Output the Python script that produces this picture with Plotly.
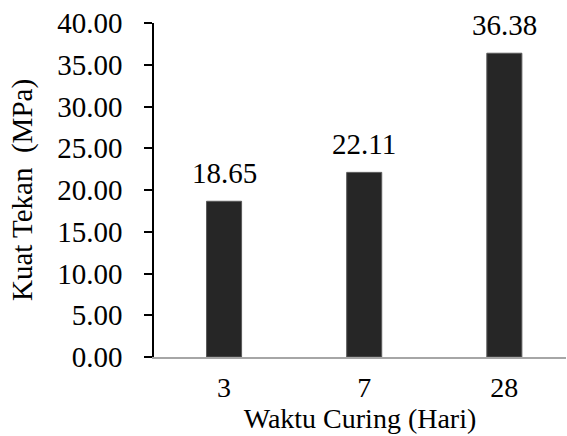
import plotly.graph_objects as go

categories = ["3", "7", "28"]
values = [18.65, 22.11, 36.38]
labels = ["18.65", "22.11", "36.38"]
y_ticks = [0, 5, 10, 15, 20, 25, 30, 35, 40]
y_tick_labels = ["0.00", "5.00", "10.00", "15.00", "20.00", "25.00", "30.00", "35.00", "40.00"]

FONT = "Liberation Serif, Times New Roman, serif"
FS = 29

fig = go.Figure(go.Bar(
    x=categories, y=values,
    marker=dict(color="#262626", line=dict(color="#595959", width=1)),
    width=0.25,
))

for i, (v, t) in enumerate(zip(values, labels)):
    fig.add_annotation(x=i, y=v, text=t, showarrow=False, yanchor="middle",
                       yshift=28, font=dict(family=FONT, size=FS, color="#000000"))

fig.update_layout(
    width=567, height=436,
    margin=dict(l=154, r=1, t=23, b=79),
    plot_bgcolor="white", paper_bgcolor="white",
    font=dict(family=FONT, size=FS, color="#000000"),
    showlegend=False,
)
fig.update_xaxes(
    type="category", range=[-0.5, 2.44], automargin=False,
    showline=True, linecolor="#A6A6A6", linewidth=1.5,
    ticks="", showgrid=False, ticklabelstandoff=5,
    title=dict(text="Waktu Curing (Hari)", font=dict(size=28), standoff=3),
    tickfont=dict(size=28),
)
fig.update_yaxes(
    range=[0, 40], tickvals=y_ticks, ticktext=y_tick_labels, automargin=False,
    showline=True, linecolor="#000000", linewidth=1.5,
    ticks="outside", ticklen=8, tickcolor="#000000", tickwidth=1.5,
    ticklabelstandoff=16,
    showgrid=False, zeroline=False,
    title=dict(text="Kuat Tekan  (MPa)", font=dict(size=FS), standoff=16),
    tickfont=dict(size=FS),
)

fig.write_html("out.html", config={"displayModeBar": False},
               post_script="document.body.style.margin='0';")
